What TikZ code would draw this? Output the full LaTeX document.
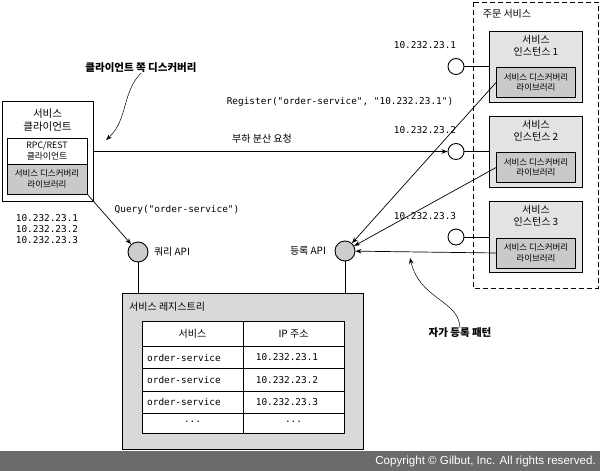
\documentclass[tikz,border=0pt]{standalone}
\usepackage{fontspec}
\setmainfont{Noto Sans CJK KR}
\setmonofont{DejaVu Sans Mono}
\newfontfamily\copyfont{Liberation Sans}
\usetikzlibrary{arrows.meta}
\definecolor{libgray}{HTML}{C9C9C9}
\definecolor{instgray}{HTML}{E3E3E3}
\definecolor{apigray}{HTML}{CDCDCD}
\definecolor{reggray}{HTML}{D9D9D9}
\definecolor{bargray}{HTML}{6B6B6B}
\newcommand\kr{\fontsize{10}{12}\selectfont}
\newcommand\krsmall{\fontsize{8.5}{10.5}\selectfont}
\newcommand\mono{\ttfamily\fontsize{9.4}{11}\selectfont}

\begin{document}
\begin{tikzpicture}[x=1pt,y=-1pt,
  every node/.style={inner sep=0pt, font=\kr},
  frame/.style={draw, line width=0.9pt},
  libbox/.style={frame, fill=libgray, minimum width=79pt, minimum height=30pt, align=center, font=\krsmall},
  instbox/.style={frame, fill=instgray, minimum width=93pt, minimum height=71pt},
  port/.style={draw, line width=0.9pt, circle, minimum size=16pt, fill=white},
  api/.style={port, minimum size=20pt, fill=apigray},
  arr/.style={-{Stealth[length=6pt,width=4.5pt]}, line width=0.7pt},
  ipnum/.style={font=\mono},
  callout/.style={font=\fontsize{10.5}{12}\selectfont\bfseries}]
			%%%%% FRAME %%%%%
			\useasboundingbox (0,0) rectangle (600,471);
			
			%%%%% ORDER SERVICE %%%%%
			\draw[dash pattern=on 5pt off 3pt, line width=0.9pt] (473,2) rectangle (598,288);
			\node (ordersvc) at (507,14) {주문 서비스};
			
			\foreach \i/\y in {1/66.5,2/151.5,3/237}{
				\node[instbox] (inst\i) at (535.5,\y) {};
				\node[align=center] (title\i) at (536,\y-21) {서비스\\인스턴스 \i};
				\node[libbox] (lib\i) at (536,\y+16) {서비스 디스커버리\\라이브러리};
				\node[port] (port\i) at (456,\y) {};
				\node[ipnum] (ip\i) at (425,\y-21) {10.232.23.\i};
				\draw[line width=0.9pt] (port\i) -- (inst\i);
			}
			
			%%%%% CLIENT %%%%%
			\node[frame, minimum width=91pt, minimum height=100pt] (client) at (47.5,151.5) {};
			\node[align=center, font=\fontsize{10.5}{13}\selectfont] (clienttitle) at (47.5,120) {서비스\\클라이언트};
			\node[frame, fill=white, minimum width=80pt, minimum height=26pt, align=center, font=\fontsize{8.8}{10.5}\selectfont] (rpc) at (47,151) {RPC/REST\\클라이언트};
			\node[libbox, minimum width=80pt] (clientlib) at (47,179) {서비스 디스커버리\\라이브러리};
			\node[ipnum, align=center] (clientips) at (47,229) {10.232.23.1\\10.232.23.2\\10.232.23.3};
			
			\node[callout] (clientside) at (141,68) {클라이언트 쪽 디스커버리};
			\draw[arr, line width=0.5pt] (clientside.south) .. controls (122,92) and (128,120) .. (106,140);
			
			%%%%% APIS %%%%%
			\node[api] (query) at (138,252) {};
			\node (querylbl) at (172,252) {쿼리 API};
			\node[api] (register) at (345,251) {};
			\node (registerlbl) at (308,251) {등록 API};
			
			%%%%% REQUESTS %%%%%
			\draw[arr, line width=0.9pt] (client.east |- port2) -- (port2);
			\node (lbreq) at (262,139) {부하 분산 요청};
			\draw[arr] (clientlib.south east) -- (query);
			\node[ipnum] (querycall) at (177,210) {Query("order-service")};
			\node[ipnum] (registercall) at (340,102) {Register("order-service", "10.232.23.1")};
			\draw[arr] (lib1.west) -- (register);
			\draw[arr] (lib2.west) -- (register);
			\draw[arr] (lib3.west) -- (register);
			
			\node[callout] (selfreg) at (460,333) {자가 등록 패턴};
			\draw[arr, line width=0.5pt] (selfreg.north) .. controls (459,300) and (420,300) .. (410,258);
			
			%%%%% REGISTRY %%%%%
			\node[frame, fill=reggray, minimum width=241pt, minimum height=156pt] (registry) at (242.5,371) {};
			\draw[line width=0.9pt] (query) -- (query |- registry.north);
			\draw[line width=0.9pt] (register) -- (register |- registry.north);
			\node[anchor=west] (reglbl) at (129,307) {서비스 레지스트리};
			
			\draw[line width=0.9pt, fill=white] (142,321) rectangle (344,433);
			\foreach \r in {346,368.5,391,413}
				\draw[line width=0.9pt] (142,\r) -- (344,\r);
			\draw[line width=0.9pt] (243,321) -- (243,433);
			\node (colsvc) at (192.5,334) {서비스};
			\node (colip) at (293.5,334) {IP 주소};
			\foreach \i/\y in {1/357.5,2/380,3/402}{
				\node[ipnum, anchor=west] (svc\i) at (147,\y) {order-service};
				\node[ipnum] (addr\i) at (287,\y) {10.232.23.\i};
			}
			\node[ipnum] (svcmore) at (192.5,422) {...};
			\node[ipnum] (addrmore) at (293.5,422) {...};
			
			%%%%% COPYRIGHT %%%%%
			\fill[bargray] (0,451) rectangle (600,471);
			\node[anchor=east, text=white, font=\copyfont\fontsize{11.6}{13}\selectfont] (copy) at (596,461.5) {Copyright © Gilbut, Inc. All rights reserved.};
\end{tikzpicture}
\end{document}
